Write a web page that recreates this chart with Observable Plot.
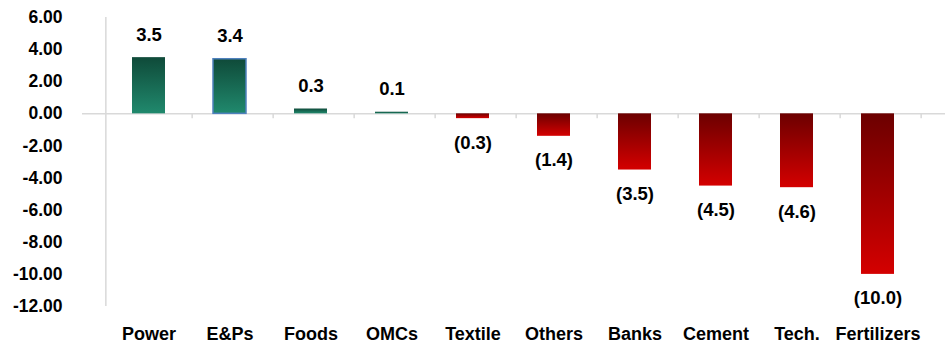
<!DOCTYPE html>
<html>
<head>
<meta charset="utf-8">
<script src="https://cdn.jsdelivr.net/npm/d3@7"></script>
<script src="https://cdn.jsdelivr.net/npm/@observablehq/plot@0.6"></script>
<style>
  body { margin: 0; background: #fff; }
</style>
</head>
<body>
<div id="chart"></div>
<script>
// Sector performance (change, %)
const sectors = ["Power", "E&Ps", "Foods", "OMCs", "Textile", "Others", "Banks", "Cement", "Tech.", "Fertilizers"];
const changes = [3.5, 3.4, 0.3, 0.1, -0.3, -1.4, -3.5, -4.5, -4.6, -10.0];
const yTicks = [-12, -10, -8, -6, -4, -2, 0, 2, 4, 6];
const outlined = ["E&Ps"];

const data = sectors.map((sector, i) => ({sector, value: changes[i]}));
const gains = data.filter(d => d.value >= 0);
const losses = data.filter(d => d.value < 0);

const W = 945, H = 344, mL = 82, mR = 0, mT = 17, mB = 38;
const step = (W - mL - mR) / sectors.length;
const font = "'Liberation Sans', Arial, sans-serif";
const grey = "#d9d9d9";

const fmtTick = v => (v < 0 ? "-" : "") + Math.abs(v).toFixed(2);
const fmtVal = v => v < 0 ? `(${Math.abs(v).toFixed(1)})` : v.toFixed(1);

const chart = Plot.plot({
  width: W, height: H,
  marginLeft: mL, marginRight: mR, marginTop: mT, marginBottom: mB,
  style: {fontFamily: font, fontWeight: "bold", color: "#000", background: "#fff", overflow: "visible"},
  x: {domain: sectors, padding: 0.59, label: null},
  y: {domain: [-12, 6], label: null},
  marks: [
    Plot.axisY({ticks: yTicks, tickFormat: fmtTick, tickSize: 0, tickPadding: 20, fontSize: 17.5, label: null}),
    Plot.axisX({tickSize: 0, tickPadding: 21, fontSize: 18, label: null}),
    // vertical axis line at the left edge of the first band
    Plot.ruleX([sectors[0]], {dx: -step / 2, y1: -12, y2: 6, stroke: grey, strokeWidth: 1.5}),
    // zero baseline with category separators
    Plot.ruleY([0], {stroke: grey, strokeWidth: 1.5}),
    Plot.ruleX(sectors, {x: d => d, dx: step / 2, y1: 0, y2: -0.3, stroke: grey, strokeWidth: 1.5}),
    Plot.barY(gains, {x: "sector", y: "value", fill: "url(#gainGrad)"}),
    Plot.barY(gains.filter(d => outlined.includes(d.sector)), {x: "sector", y: "value", fill: "none", stroke: "#4f81bd", strokeWidth: 1.5}),
    Plot.barY(losses, {x: "sector", y: "value", fill: "url(#lossGrad)"}),
    Plot.text(gains, {x: "sector", y: "value", text: d => fmtVal(d.value), dy: -23, fontSize: 18.5, fill: "#000"}),
    Plot.text(losses, {x: "sector", y: "value", text: d => fmtVal(d.value), dy: 24, fontSize: 18.5, fill: "#000"})
  ]
});

// vertical gradients used by the bars (dark at the top, lighter at the bottom)
const defs = d3.select(chart).insert("defs", ":first-child");
const addGrad = (id, top, bottom) => {
  const g = defs.append("linearGradient").attr("id", id)
    .attr("x1", 0).attr("y1", 0).attr("x2", 0).attr("y2", 1);
  g.append("stop").attr("offset", "0%").attr("stop-color", top);
  g.append("stop").attr("offset", "100%").attr("stop-color", bottom);
};
addGrad("gainGrad", "#0f4a39", "#20896d");
addGrad("lossGrad", "#6c0000", "#d40000");

document.getElementById("chart").appendChild(chart);
</script>
</body>
</html>
